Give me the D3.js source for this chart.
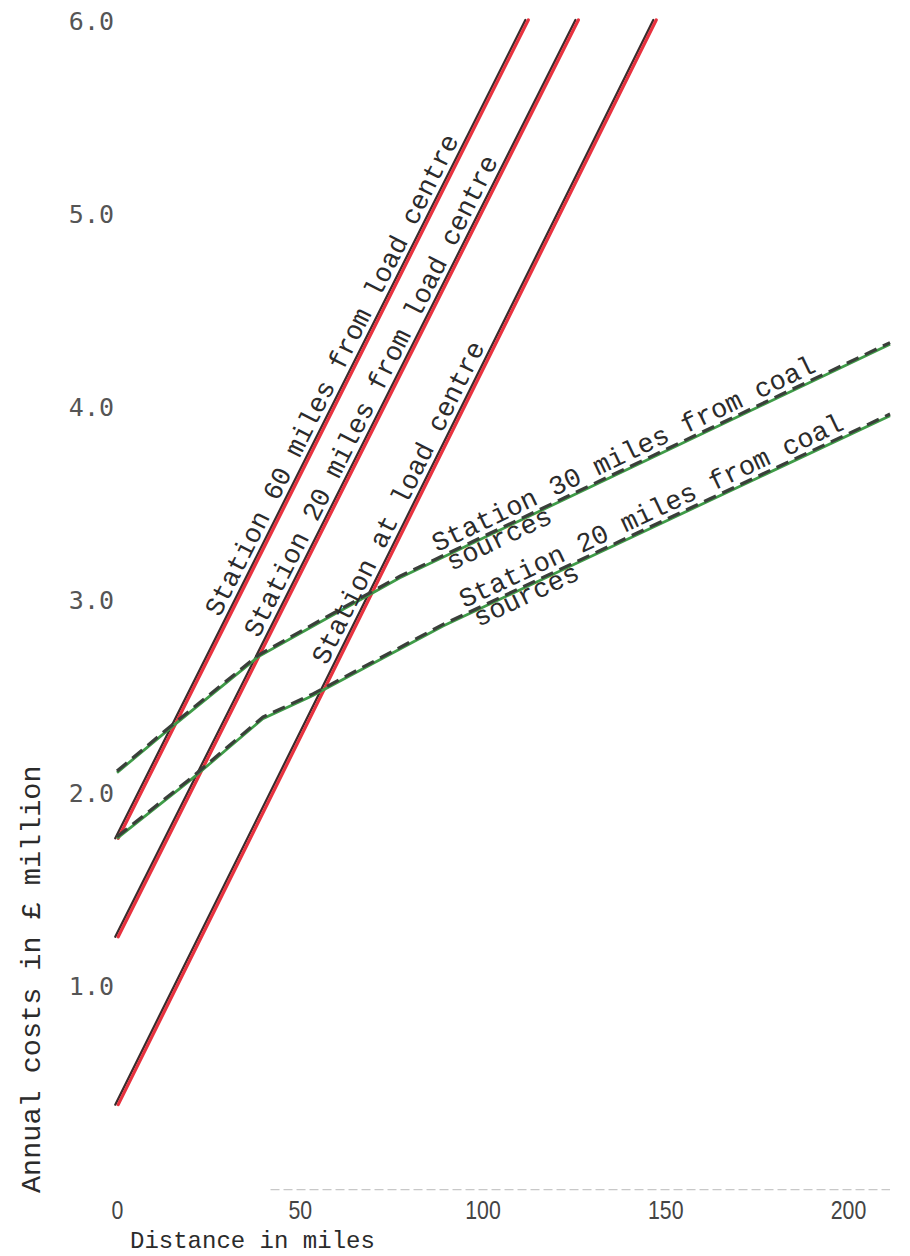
<!DOCTYPE html>
<html lang="en">
<head>
    <meta charset="UTF-8">
    <title>Annual costs against distance</title>
    <script src="https://d3js.org/d3.v7.min.js"></script>
    <style>
        body { margin: 0; background: #fff; }
        svg { display: block; }
        .typed { font-family: "Liberation Mono", "DejaVu Sans Mono", monospace; font-size: 27px; fill: #2b2b2b; }
        .ytick text { font-family: "DejaVu Sans Mono", monospace; font-size: 25px; fill: #555; }
        .xtick text { font-family: "Liberation Sans", sans-serif; font-size: 26px; fill: #444; }
    </style>
</head>
<body>
    <svg width="910" height="1256"></svg>
    <script>
        // tick values
        const xTicks = [0, 50, 100, 150, 200];
        const yTicks = [1, 2, 3, 4, 5, 6];

        // [miles, £ million]
        const station60Load = [[0, 1.76], [112.2, 6.0]];
        const station20Load = [[0, 1.25], [125.9, 6.0]];
        const stationAtLoad = [[0, 0.38], [147.2, 6.0]];
        const station30Coal = [[0, 2.10], [14.5, 2.33], [38.6, 2.70], [55.5, 2.88], [77.4, 3.11], [211.5, 4.32]];
        const station20Coal = [[0, 1.76], [20.0, 2.06], [39.9, 2.38], [53.6, 2.50], [89.2, 2.86], [211.5, 3.95]];

        const redSeries = [station60Load, station20Load, stationAtLoad];
        const greenSeries = [station30Coal, station20Coal];

        // label text and the mile where each label starts
        const labels = [
            { series: station60Load, mile: 29.8, lines: ["Station 60 miles from load centre"] },
            { series: station20Load, mile: 40.5, lines: ["Station 20 miles from load centre"] },
            { series: stationAtLoad, mile: 59.1, lines: ["Station at load centre"] },
            { series: station30Coal, mile: 88.4, lines: ["Station 30 miles from coal", "sources"] },
            { series: station20Coal, mile: 95.8, lines: ["Station 20 miles from coal", "sources"] }
        ];

        const svg = d3.select("svg");
        const x = d3.scaleLinear().domain([0, 200]).range([117, 848]);
        const y = d3.scaleLinear().domain([0, 6]).range([1178, 20]);
        const line = d3.line().x(d => x(d[0])).y(d => y(d[1]));

        // faint scanned baseline
        svg.append("line")
            .attr("x1", x(42)).attr("x2", x(211.5))
            .attr("y1", y(-0.06)).attr("y2", y(-0.06))
            .attr("stroke", "#c8c8c8").attr("stroke-width", 1.2)
            .attr("stroke-dasharray", "9,4");

        // axes
        const yAxis = svg.append("g")
            .attr("class", "ytick")
            .attr("transform", "translate(114,0)")
            .call(d3.axisLeft(y).tickValues(yTicks).tickFormat(d3.format(".1f")).tickSize(0).tickPadding(0));
        yAxis.select(".domain").remove();
        yAxis.selectAll("text").attr("dy", "0.36em");

        const xAxis = svg.append("g")
            .attr("class", "xtick")
            .attr("transform", "translate(0,1190)")
            .call(d3.axisBottom(x).tickValues(xTicks).tickSize(0).tickPadding(11));
        xAxis.select(".domain").remove();
        xAxis.selectAll("text").attr("transform", "scale(0.82,1)");

        svg.append("text")
            .attr("class", "typed")
            .style("font-size", "24px")
            .attr("x", 130).attr("y", 1248)
            .text("Distance in miles");

        svg.append("text")
            .attr("class", "typed")
            .style("font-size", "28.5px")
            .attr("transform", "translate(40,1193) rotate(-90)")
            .text("Annual costs in £ million");

        // red lines: dark pen beside the red one
        redSeries.forEach(s => {
            svg.append("path")
                .attr("d", line(s))
                .attr("transform", "translate(-1.7,0)")
                .attr("fill", "none").attr("stroke", "#3a2c2c")
                .attr("stroke-width", 2.3).attr("stroke-linecap", "round");
            svg.append("path")
                .attr("d", line(s))
                .attr("transform", "translate(1.2,0)")
                .attr("fill", "none").attr("stroke", "#e8323f")
                .attr("stroke-width", 3.2).attr("stroke-linecap", "round");
        });

        // green lines with dashed dark overlay
        greenSeries.forEach(s => {
            svg.append("path")
                .attr("d", line(s))
                .attr("fill", "none").attr("stroke", "#3f9c48")
                .attr("stroke-width", 2.8);
            svg.append("path")
                .attr("d", line(s))
                .attr("transform", "translate(0,-1.6)")
                .attr("fill", "none").attr("stroke", "#3a3f3a")
                .attr("stroke-width", 3.2).attr("stroke-dasharray", "13,7");
        });

        function valueAt(pts, m) {
            for (let i = 0; i < pts.length - 1; i++) {
                if (m >= pts[i][0] && m <= pts[i + 1][0]) {
                    const t = (m - pts[i][0]) / (pts[i + 1][0] - pts[i][0]);
                    return pts[i][1] + t * (pts[i + 1][1] - pts[i][1]);
                }
            }
            return pts[pts.length - 1][1];
        }

        const lineOffsets = [[0, -7], [5, 16]];
        labels.forEach(l => {
            const px = x(l.mile), py = y(valueAt(l.series, l.mile));
            const end = l.series[l.series.length - 1];
            const ang = Math.atan2(y(end[1]) - py, x(end[0]) - px) * 180 / Math.PI;
            const g = svg.append("g").attr("transform", `translate(${px},${py}) rotate(${ang})`);
            l.lines.forEach((t, i) => {
                g.append("text")
                    .attr("class", "typed")
                    .attr("x", lineOffsets[i][0])
                    .attr("y", lineOffsets[i][1])
                    .text(t);
            });
        });
    </script>
</body>
</html>
